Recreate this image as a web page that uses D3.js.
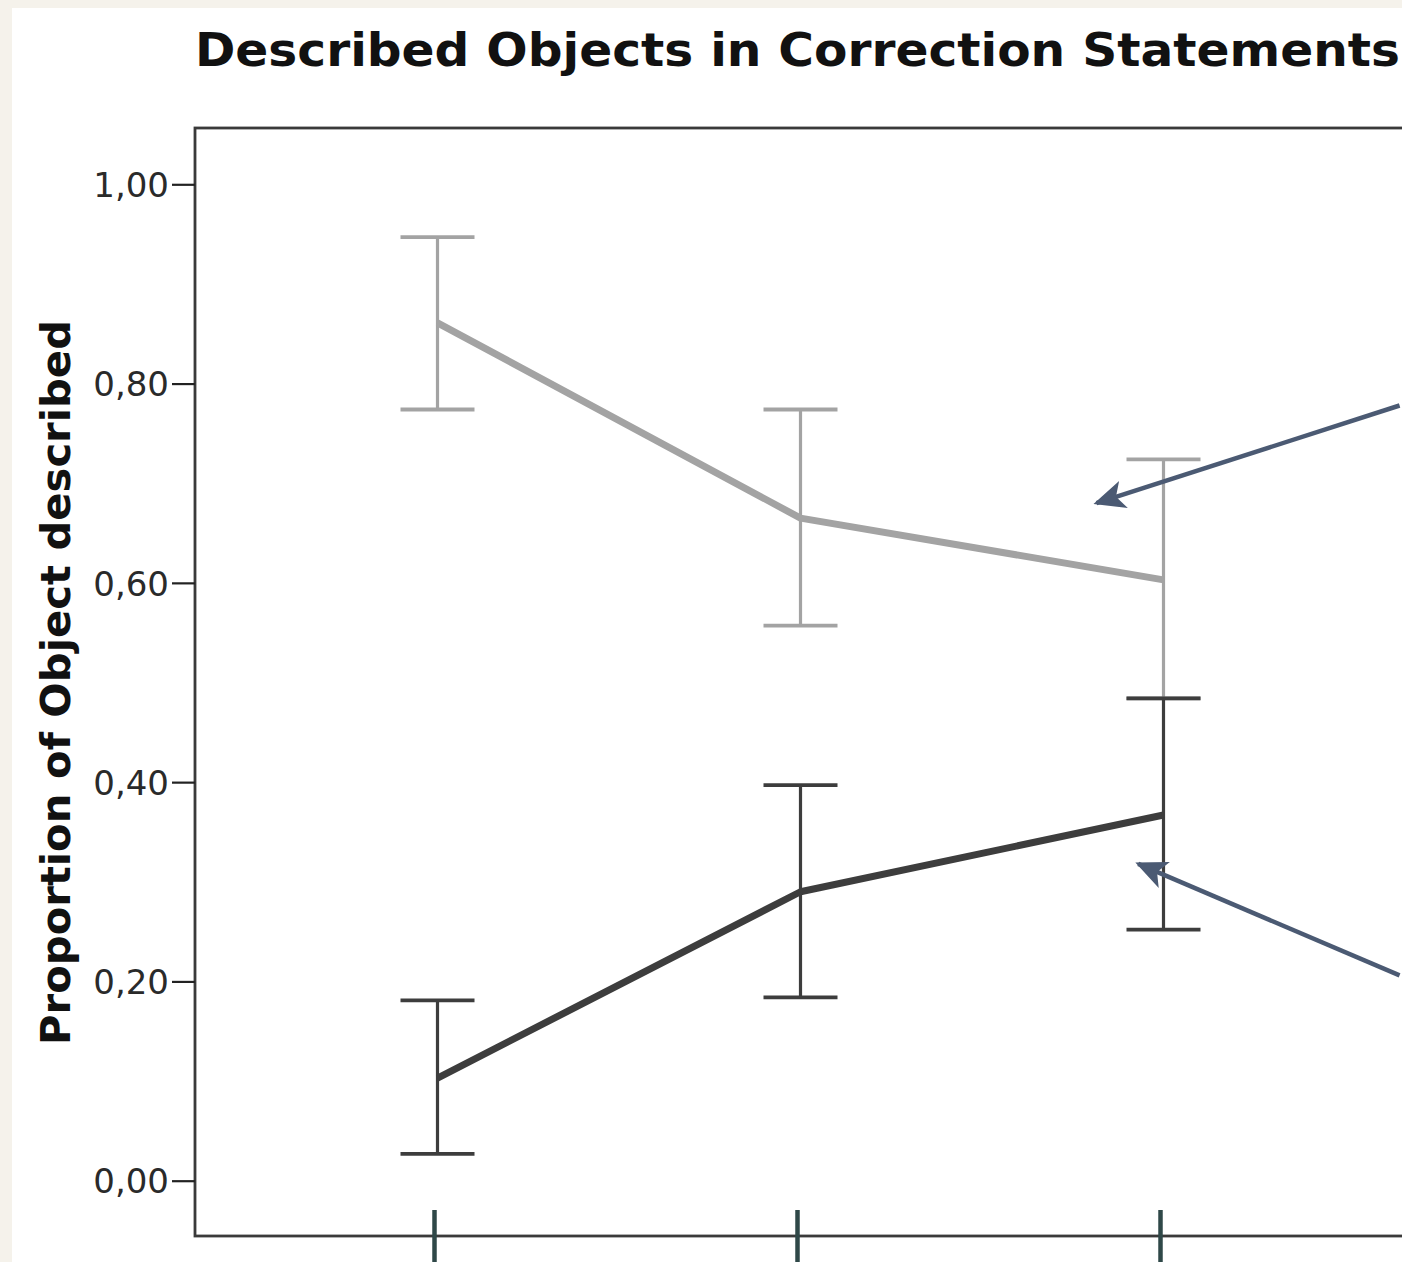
<!DOCTYPE html>
<html>
<head>
<meta charset="utf-8">
<script src="https://cdn.jsdelivr.net/npm/d3@7"></script>
<style>
  html, body { margin: 0; padding: 0; background: #f5f2eb; }
  #chart { position: absolute; left: 12px; top: 8px; width: 1390px; height: 1254px; background: #fff; overflow: hidden; }
  svg { display: block; }
</style>
</head>
<body>
<div id="chart"></div>
<script>
//Datos
const categorias = ['c1', 'c2', 'c3'];
const yTicks = [0, 0.2, 0.4, 0.6, 0.8, 1.0];

//Serie clara
const mediaClara = [0.861, 0.665, 0.603];
const superiorClara = [0.947, 0.774, 0.724];
const inferiorClara = [0.774, 0.557, 0.484];

//Serie oscura
const mediaOscura = [0.103, 0.290, 0.367];
const superiorOscura = [0.181, 0.397, 0.484];
const inferiorOscura = [0.027, 0.184, 0.252];

//Flechas de anotación (posición de categoría, valor)
const flechas = [
    {x1: 2.66, y1: 0.778, x2: 1.825, y2: 0.680},
    {x1: 2.66, y1: 0.206, x2: 1.94, y2: 0.318}
];

//Colores
const COLOR_CLARO = '#a3a3a3',
COLOR_OSCURO = '#3d3d3d',
COLOR_FLECHA = '#4b5a73',
COLOR_TICK_X = '#2f4848';

let svg = d3.select('#chart')
    .append('svg')
    .attr('width', 1390)
    .attr('height', 1254)
    .append('g')
    .attr('transform', 'translate(-12,-8)');

let margin = {top: 128, left: 195, bottom: 1236, right: 1700};

let x = d3.scalePoint()
    .domain(categorias)
    .range([434, 1160]);

let xi = d3.scaleLinear()
    .domain([0, 2])
    .range([434, 1160]);

let y = d3.scaleLinear()
    .domain([-0.0555, 1.0565])
    .range([margin.bottom, margin.top]);

let dodge = 3.5, cap = 37;

//Título
svg.append('text')
    .attr('x', 195)
    .attr('y', 66)
    .attr('font-family', 'DejaVu Sans')
    .attr('font-weight', 'bold')
    .attr('font-size', 46)
    .attr('textLength', 1205)
    .attr('lengthAdjust', 'spacingAndGlyphs')
    .attr('fill', '#111')
    .text('Described Objects in Correction Statements');

//Marco
svg.append('rect')
    .attr('x', margin.left)
    .attr('y', margin.top)
    .attr('width', margin.right - margin.left)
    .attr('height', margin.bottom - margin.top)
    .attr('fill', 'none')
    .attr('stroke', '#3a3a3a')
    .attr('stroke-width', 2.8);

//Eje Y
let yAxis = function(g) {
    g.call(d3.axisLeft(y).tickValues(yTicks).tickSize(23).tickPadding(3)
        .tickFormat(function(d) { return d3.format('.2f')(d).replace('.', ','); }));
    g.call(function(g) { g.select('.domain').remove(); });
    g.selectAll('.tick line').attr('stroke', '#222').attr('stroke-width', 2.2);
    g.selectAll('.tick text')
        .attr('font-family', 'DejaVu Sans')
        .attr('font-size', 34)
        .attr('fill', '#2a2a2a')
        .attr('dy', '0.36em');
};

svg.append('g')
    .attr('transform', 'translate(' + margin.left + ',0)')
    .call(yAxis);

//Etiqueta eje Y
svg.append('text')
    .attr('transform', 'translate(70,' + y(0.5) + ') rotate(-90)')
    .attr('text-anchor', 'middle')
    .attr('font-family', 'DejaVu Sans')
    .attr('font-weight', 'bold')
    .attr('font-size', 41)
    .attr('textLength', 725)
    .attr('lengthAdjust', 'spacingAndGlyphs')
    .attr('fill', '#111')
    .text('Proportion of Object described');

//Eje X (solo marcas)
let xAxis = function(g) {
    g.call(d3.axisBottom(x).tickSize(60).tickFormat(''));
    g.call(function(g) { g.select('.domain').remove(); });
    g.selectAll('.tick line').attr('stroke', COLOR_TICK_X).attr('stroke-width', 4.5);
};

svg.append('g')
    .attr('transform', 'translate(0,1210)')
    .call(xAxis);

//Series
function dibujarSerie(media, sup, inf, color, clase) {
    let datos = categorias.map(function(c, i) {
        return {cat: c, media: media[i], sup: sup[i], inf: inf[i]};
    });

    let g = svg.append('g').attr('class', clase);

    g.selectAll('.bar')
        .data(datos)
        .enter()
        .append('line')
        .attr('x1', function(d) { return x(d.cat) + dodge; })
        .attr('x2', function(d) { return x(d.cat) + dodge; })
        .attr('y1', function(d) { return y(d.sup); })
        .attr('y2', function(d) { return y(d.inf); })
        .attr('stroke', color)
        .attr('stroke-width', 3.2);

    ['sup', 'inf'].forEach(function(k) {
        g.selectAll('.cap_' + k)
            .data(datos)
            .enter()
            .append('line')
            .attr('x1', function(d) { return x(d.cat) + dodge - cap; })
            .attr('x2', function(d) { return x(d.cat) + dodge + cap; })
            .attr('y1', function(d) { return y(d[k]); })
            .attr('y2', function(d) { return y(d[k]); })
            .attr('stroke', color)
            .attr('stroke-width', 3.8);
    });

    g.append('path')
        .datum(datos)
        .attr('fill', 'none')
        .attr('stroke', color)
        .attr('stroke-width', 7)
        .attr('stroke-linejoin', 'round')
        .attr('d', d3.line()
            .x(function(d) { return x(d.cat) + dodge; })
            .y(function(d) { return y(d.media); }));
}

dibujarSerie(mediaClara, superiorClara, inferiorClara, COLOR_CLARO, 'clara');
dibujarSerie(mediaOscura, superiorOscura, inferiorOscura, COLOR_OSCURO, 'oscura');

//Flechas
svg.append('defs')
    .append('marker')
    .attr('id', 'punta')
    .attr('viewBox', '0 0 10 10')
    .attr('refX', 9)
    .attr('refY', 5)
    .attr('markerWidth', 7)
    .attr('markerHeight', 7)
    .attr('markerUnits', 'strokeWidth')
    .attr('orient', 'auto')
    .append('path')
    .attr('d', 'M0,0.5 L10,5 L0,9.5 L2.5,5 Z')
    .attr('fill', COLOR_FLECHA);

svg.selectAll('.flecha')
    .data(flechas)
    .enter()
    .append('line')
    .attr('class', 'flecha')
    .attr('x1', function(d) { return xi(d.x1); })
    .attr('y1', function(d) { return y(d.y1); })
    .attr('x2', function(d) { return xi(d.x2); })
    .attr('y2', function(d) { return y(d.y2); })
    .attr('stroke', COLOR_FLECHA)
    .attr('stroke-width', 4.5)
    .attr('marker-end', 'url(#punta)');
</script>
</body>
</html>
